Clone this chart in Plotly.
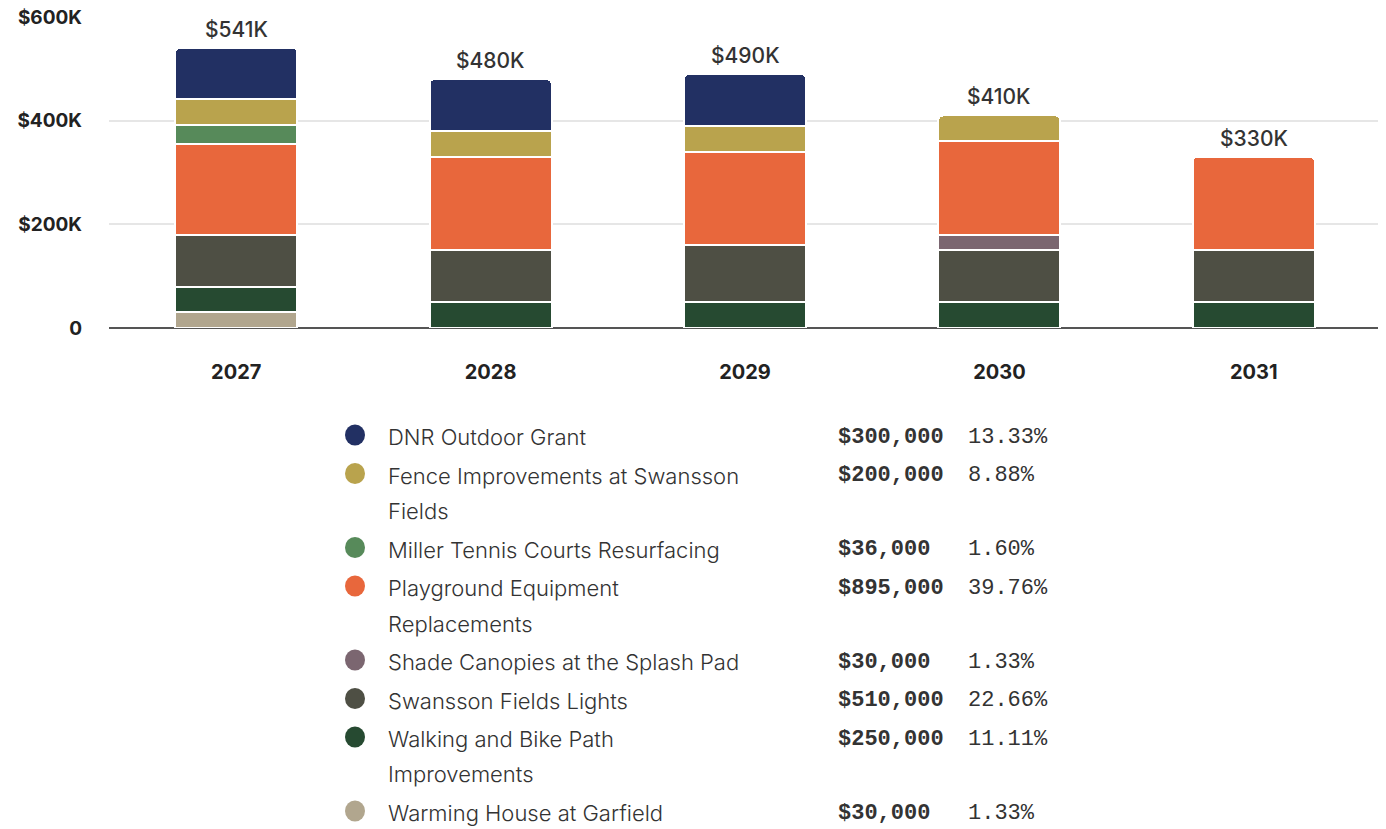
import textwrap
import plotly.graph_objects as go

# ---- data ----
years = ["2027", "2028", "2029", "2030", "2031"]
series_names = [
    "DNR Outdoor Grant",
    "Fence Improvements at Swansson Fields",
    "Miller Tennis Courts Resurfacing",
    "Playground Equipment Replacements",
    "Shade Canopies at the Splash Pad",
    "Swansson Fields Lights",
    "Walking and Bike Path Improvements",
    "Warming House at Garfield",
]
dnr = [100000, 100000, 100000, None, None]
fence = [50000, 50000, 50000, 50000, None]
miller = [36000, None, None, None, None]
playground = [175000, 180000, 180000, 180000, 180000]
shade = [None, None, None, 30000, None]
lights = [100000, 100000, 110000, 100000, 100000]
walking = [50000, 50000, 50000, 50000, 50000]
warming = [30000, None, None, None, None]
totals_text = ["$541K", "$480K", "$490K", "$410K", "$330K"]
totals = [541000, 480000, 490000, 410000, 330000]
amounts = ["$300,000", "$200,000", "$36,000", "$895,000", "$30,000",
           "$510,000", "$250,000", "$30,000"]
percents = ["13.33%", "8.88%", "1.60%", "39.76%", "1.33%", "22.66%",
            "11.11%", "1.33%"]
colors = ["#223063", "#b9a34d", "#578a5a", "#e8673c", "#7b6670",
          "#4e4f44", "#264a31", "#b1a68e"]
y_tickvals = [0, 200000, 400000, 600000]
y_ticktext = ["0", "$200K", "$400K", "$600K"]

values = [dnr, fence, miller, playground, shade, lights, walking, warming]

OFF = 8  # page body margin
W, H = 1386 - OFF, 829 - OFF
L, T = 109 - OFF, 17 - OFF
R = W - (1381 - OFF)
B = H - (328 - OFF)
PW, PH = W - L - R, H - T - B


def px_x(px):
    return (px - OFF - L) / PW


def px_y(py):
    return (H - B - (py - OFF)) / PH


fig = go.Figure()
for name, vals, col in reversed(list(zip(series_names, values, colors))):
    xs = [yr for yr, v in zip(years, vals) if v is not None]
    ys = [v for v in vals if v is not None]
    fig.add_trace(go.Bar(
        x=xs, y=ys, name=name,
        marker=dict(color=col, line=dict(color="white", width=2)),
        showlegend=False,
    ))

# totals above bars (category index positions)
for i, (tot, txt) in enumerate(zip(totals, totals_text)):
    fig.add_annotation(x=i, y=tot, text=txt, showarrow=False,
                       yanchor="bottom", yshift=4,
                       font=dict(family="Inter, Open Sans, sans-serif",
                                 size=21, color="#333333", weight=500))

# custom legend table
row_y = 437
for name, col, amt, pct in zip(series_names, colors, amounts, percents):
    lines = textwrap.wrap(name, 32)
    fig.add_shape(type="circle", xref="paper", yref="paper",
                  xsizemode="pixel", ysizemode="pixel",
                  xanchor=px_x(355), yanchor=px_y(row_y - 2),
                  x0=-10, x1=10, y0=-10.5, y1=10.5,
                  fillcolor=col, line=dict(width=0))
    for i, ln in enumerate(lines):
        fig.add_annotation(xref="paper", yref="paper",
                           x=px_x(386), y=px_y(row_y + i * 35.5),
                           text=ln, showarrow=False,
                           xanchor="left", yanchor="middle",
                           font=dict(family="Inter, Open Sans, sans-serif",
                                     size=22, color="#333333", weight=300))
    fig.add_annotation(xref="paper", yref="paper",
                       x=px_x(836), y=px_y(row_y), text="<b>%s</b>" % amt,
                       showarrow=False, xanchor="left", yanchor="middle",
                       font=dict(family="Liberation Mono, DejaVu Sans Mono, monospace",
                                 size=22, color="#333333"))
    fig.add_annotation(xref="paper", yref="paper",
                       x=px_x(966), y=px_y(row_y), text=pct,
                       showarrow=False, xanchor="left", yanchor="middle",
                       font=dict(family="Liberation Mono, DejaVu Sans Mono, monospace",
                                 size=22, color="#333333"))
    row_y += 35.5 * (len(lines) - 1) + 38.5

fig.update_layout(
    width=W, height=H,
    margin=dict(l=L, r=R, t=T, b=B, autoexpand=False),
    barmode="stack", bargap=0.52, barcornerradius=5,
    plot_bgcolor="white", paper_bgcolor="white",
    font=dict(family="Inter, Open Sans, sans-serif", color="#222222"),
    xaxis=dict(type="category", categoryorder="array", categoryarray=years,
               range=[-0.5, len(years) - 0.5],
               showgrid=False, ticks="", ticklabelstandoff=30,
               tickfont=dict(size=20, weight=700, color="#222222")),
    yaxis=dict(range=[0, 600000], tickvals=y_tickvals, ticktext=y_ticktext,
               showgrid=True, gridcolor="#e6e6e6", gridwidth=2,
               zeroline=True, zerolinecolor="#555555", zerolinewidth=2,
               ticks="", ticklabelstandoff=26, ticklabeloverflow="allow",
               tickfont=dict(size=19, weight=700, color="#222222")),
)

fig.write_html("out.html")
